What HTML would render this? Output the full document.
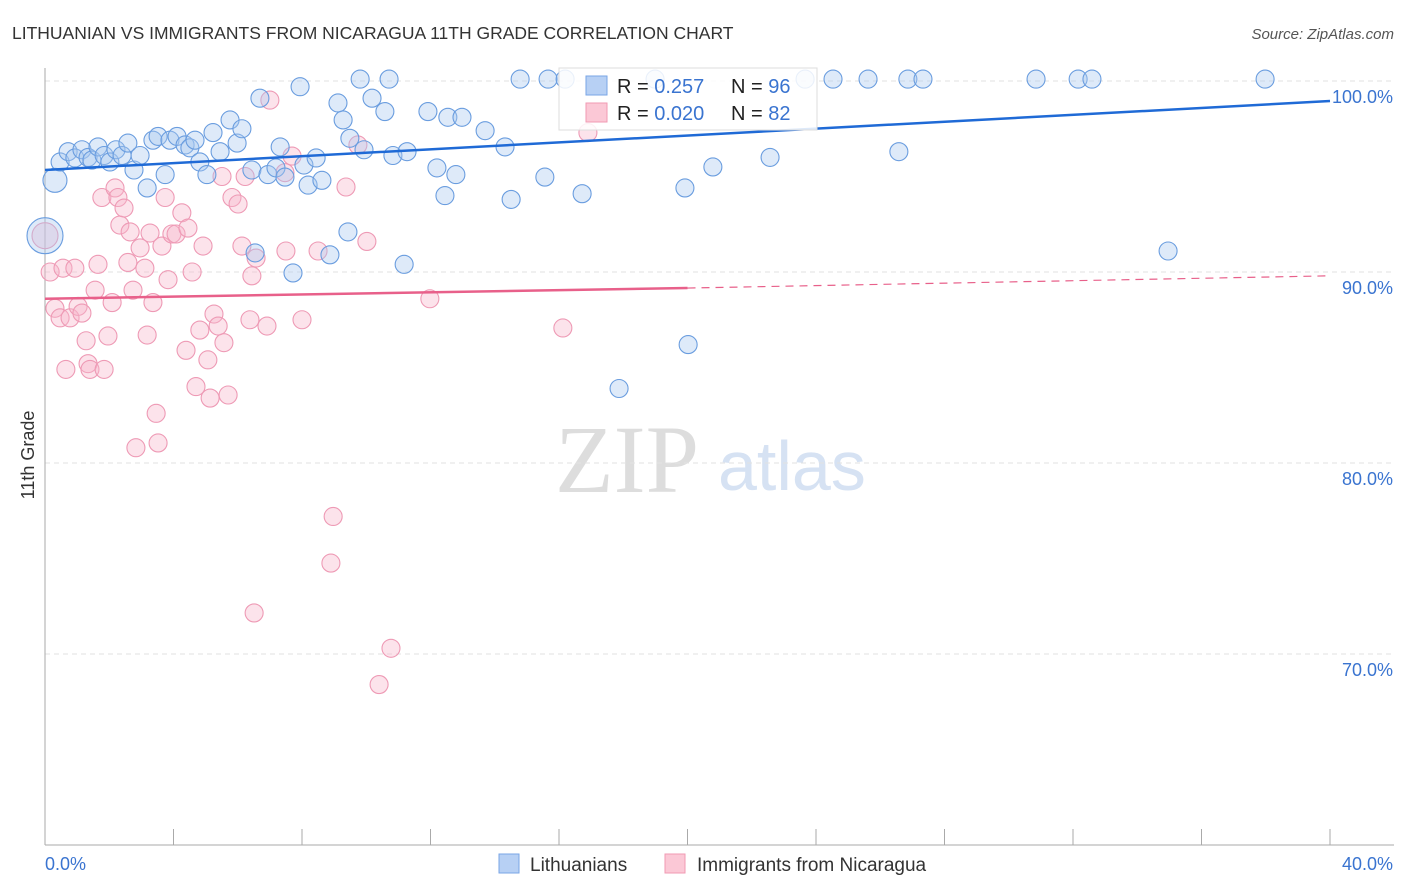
<!DOCTYPE html>
<html><head><meta charset="utf-8"><style>
body{margin:0;width:1406px;height:892px;background:#fff;overflow:hidden;font-family:"Liberation Sans",sans-serif}
svg{position:absolute;left:0;top:0}
</style></head><body>
<svg id="c" width="1406" height="892">
<text x="12" y="39" font-size="17.5" fill="#333">LITHUANIAN VS IMMIGRANTS FROM NICARAGUA 11TH GRADE CORRELATION CHART</text>
<text x="1394" y="39" font-size="15" fill="#555" font-style="italic" text-anchor="end">Source: ZipAtlas.com</text>
<text x="34" y="455" font-size="18" fill="#333" transform="rotate(-90 34 455)" text-anchor="middle">11th Grade</text>
<g><text x="555" y="492" font-size="96" fill="#ddd" font-family="Liberation Serif,serif">ZIP</text><text x="718" y="490" font-size="70" fill="#d6e2f3">atlas</text></g>
<g id="grid"></g><g id="pts"></g><g id="lines"></g>
<g>
<rect x="559" y="68" width="258" height="62" fill="#fff" fill-opacity="0.85" stroke="#ddd"/>
<rect x="586" y="76" width="21" height="19" fill="#b7d0f4" stroke="#7aa6e6"/>
<rect x="586" y="103" width="21" height="19" fill="#fbc8d6" stroke="#f09ab3"/>
<text x="617" y="93" font-size="20" fill="#222">R = <tspan fill="#3a74d0">0.257</tspan></text>
<text x="731" y="93" font-size="20" fill="#222">N = <tspan fill="#3a74d0">96</tspan></text>
<text x="617" y="120" font-size="20" fill="#222">R = <tspan fill="#3a74d0">0.020</tspan></text>
<text x="731" y="120" font-size="20" fill="#222">N = <tspan fill="#3a74d0">82</tspan></text>
</g>
<g>
<rect x="499" y="854" width="20" height="19" fill="#b7d0f4" stroke="#7aa6e6"/>
<text x="530" y="871" font-size="19" fill="#333">Lithuanians</text>
<rect x="665" y="854" width="20" height="19" fill="#fbc8d6" stroke="#f09ab3"/>
<text x="697" y="871" font-size="19" fill="#333">Immigrants from Nicaragua</text>
</g>
</svg>
<script>
const xTicksLabels=["0.0%","40.0%"];
const yTicks=[100,90,80,70];
const blueX=[0.31,0.47,0.72,0.93,1.15,1.34,1.46,1.65,1.84,2.02,2.21,2.40,2.58,2.77,2.96,3.18,3.36,3.52,3.74,3.89,4.11,4.36,4.51,4.67,4.82,5.04,5.23,5.45,5.76,5.98,6.13,6.44,6.54,6.69,6.94,7.19,7.32,7.47,7.72,7.94,8.06,8.19,8.44,8.62,8.87,9.12,9.28,9.43,9.49,9.81,9.93,10.18,10.58,10.71,10.83,11.18,11.27,11.92,12.20,12.45,12.54,12.79,12.98,13.70,14.32,14.51,14.79,15.56,15.66,16.19,16.72,17.87,18.99,19.92,20.02,20.79,22.57,23.66,24.53,25.62,26.58,26.86,27.33,30.85,32.16,32.59,34.96,37.98,0.0];
const blueY=[94.8,95.76,96.3,95.97,96.4,96.0,95.86,96.55,96.1,95.76,96.4,96.1,96.75,95.34,96.1,94.4,96.9,97.1,95.1,96.9,97.1,96.65,96.5,96.9,95.76,95.1,97.3,96.3,97.96,96.75,97.5,95.34,91.0,99.1,95.1,95.45,96.55,94.97,89.95,99.7,95.6,94.55,95.97,94.8,90.9,98.85,97.96,92.1,97.0,100.1,96.4,99.1,98.4,100.1,96.1,90.4,96.3,98.4,95.45,94.0,98.1,95.1,98.1,97.4,96.55,93.8,100.1,94.97,100.1,100.1,94.1,83.9,100.1,94.4,86.2,95.5,96.0,100.1,100.1,100.1,96.3,100.1,100.1,100.1,100.1,100.1,91.1,100.1,91.9];
const blueR=[12,9,9,9,9,9,9,9,9,9,9,9,9,9,9,9,9,9,9,9,9,9,9,9,9,9,9,9,9,9,9,9,9,9,9,9,9,9,9,9,9,9,9,9,9,9,9,9,9,9,9,9,9,9,9,9,9,9,9,9,9,9,9,9,9,9,9,9,9,9,9,9,9,9,9,9,9,9,9,9,9,9,9,9,9,9,9,9,18];
const pinkX=[0.0,0.16,0.31,0.47,0.56,0.65,0.78,0.93,1.03,1.15,1.28,1.34,1.40,1.56,1.65,1.77,1.84,1.96,2.09,2.18,2.27,2.33,2.46,2.58,2.65,2.74,2.83,2.96,3.11,3.18,3.27,3.36,3.46,3.52,3.64,3.74,3.83,3.95,4.08,4.26,4.39,4.45,4.58,4.70,4.82,4.92,5.07,5.14,5.26,5.39,5.51,5.57,5.70,5.82,6.01,6.13,6.23,6.38,6.44,6.51,6.57,6.91,7.00,7.47,7.50,7.69,8.0,8.50,8.97,8.90,9.37,9.74,10.02,10.40,10.77,11.98,16.12,16.90];
const pinkY=[91.9,90.0,88.1,87.6,90.2,84.9,87.6,90.2,88.2,87.85,86.4,85.2,84.9,89.05,90.4,93.9,84.9,86.65,88.4,94.4,93.9,92.46,93.35,90.5,92.1,89.05,80.8,91.26,90.2,86.7,92.04,88.4,82.6,81.05,91.36,93.9,89.6,91.99,91.99,93.1,85.9,92.3,90.0,84.0,86.96,91.36,85.4,83.4,87.8,87.17,95.0,86.3,83.56,93.9,93.56,91.36,95.0,87.5,89.8,72.15,90.73,87.17,99.0,95.2,91.1,96.07,87.5,91.1,77.2,74.76,94.45,96.65,91.6,68.4,70.3,88.6,87.07,97.3];
const blueTrend=[95.34,98.95];
const pinkTrend=[88.6,89.16,89.8];
const NS='http://www.w3.org/2000/svg';
const X=v=>45+v*32.125, Y=v=>81+(100-v)*19.1;
function mk(t,a,p){const e=document.createElementNS(NS,t);for(const k in a)e.setAttribute(k,a[k]);p.appendChild(e);return e;}
const g=document.getElementById('grid');
yTicks.forEach(t=>{
 const l=mk('line',{x1:45,x2:1394,y1:Y(t),y2:Y(t),stroke:'#e2e2e2','stroke-dasharray':'5,4'},g);
 
 
 const tx=mk('text',{x:1393,y:Y(t)+22,'font-size':18,fill:'#3a74d0','text-anchor':'end'},g);
 tx.textContent=t.toFixed(1)+'%';
 
 
});
const ax=mk('line',{x1:45,x2:45,y1:68,y2:845,stroke:'#aaa'},g);


const bx=mk('line',{x1:45,x2:1394,y1:845,y2:845,stroke:'#aaa'},g);


for(let i=0;i<=10;i++){const t=mk('line',{x1:X(i*4),x2:X(i*4),y1:829,y2:845,stroke:'#aaa'},g);
 
 }
[[0,'start'],[40,'end']].forEach((p,i)=>{const t=mk('text',{x:i?1393:45,y:870,'font-size':18,fill:'#3a74d0','text-anchor':p[1]},g);t.textContent=xTicksLabels[i];
 
 });
const P=document.getElementById('pts');
pinkX.forEach((x,i)=>{const c=mk('circle',{cx:X(x),cy:Y(pinkY[i]),r:i==0?13:9,fill:'#f7b6ca','fill-opacity':0.38,stroke:'#ee9ab5','stroke-width':1.1},P);
 
 });
blueX.forEach((x,i)=>{const c=mk('circle',{cx:X(x),cy:Y(blueY[i]),r:blueR[i],fill:'#a9c7f0','fill-opacity':0.38,stroke:'#6a9ddf','stroke-width':1.1},P);
 
 });
const L=document.getElementById('lines');
const b=mk('line',{x1:X(0),y1:Y(blueTrend[0]),x2:X(40),y2:Y(blueTrend[1]),stroke:'#1f6ad6','stroke-width':2.5},L);


const p1=mk('line',{x1:X(0),y1:Y(pinkTrend[0]),x2:X(20),y2:Y(pinkTrend[1]),stroke:'#e8608a','stroke-width':2.5},L);


const p2=mk('line',{x1:X(20),y1:Y(pinkTrend[1]),x2:X(40),y2:Y(pinkTrend[2]),stroke:'#e8608a','stroke-width':1.2,'stroke-dasharray':'8,6'},L);


</script>
</body></html>
